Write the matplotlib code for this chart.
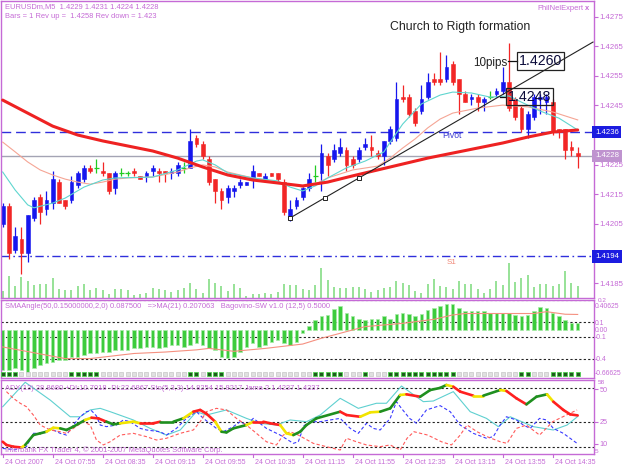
import numpy as np
import matplotlib
matplotlib.use("Agg")
import matplotlib.pyplot as plt
from matplotlib import transforms
from matplotlib.collections import LineCollection

plt.rcParams['font.family'] = ['Liberation Sans', 'DejaVu Sans']

# ---------------- data ----------------
opens = [1.4205, 1.4211, 1.4196, 1.4200, 1.4195, 1.4207, 1.4214, 1.4210, 1.4212, 1.4219,
         1.4213, 1.4213, 1.4218, 1.4220, 1.4224, 1.4224, 1.4223, 1.4222, 1.4217, 1.4222,
         1.4222, 1.4223, 1.4221, 1.4221, 1.4223, 1.4223, 1.4223, 1.4222, 1.4222, 1.4224,
         1.4224, 1.4234, 1.4232, 1.4227, 1.4220, 1.4216, 1.4214, 1.4216, 1.4218, 1.4218,
         1.4220, 1.4222, 1.4220, 1.4222, 1.4222, 1.4219, 1.4207, 1.4211, 1.4214, 1.4217,
         1.4221, 1.4222, 1.4228, 1.4227, 1.4229, 1.4230, 1.4227, 1.4227, 1.4231, 1.4231,
         1.4229, 1.4228, 1.4233, 1.4234, 1.4248, 1.4248, 1.4243, 1.4243, 1.4248, 1.4254,
         1.4254, 1.4254, 1.4259, 1.4254, 1.4249, 1.4247, 1.4248, 1.4246, 1.4248, 1.4249,
         1.4250, 1.4253, 1.4247, 1.4244, 1.4237, 1.4241, 1.4247, 1.4246, 1.4246, 1.4237,
         1.4237, 1.4231, 1.4229]
highs = [1.4212, 1.4212, 1.4204, 1.4204, 1.4208, 1.4214, 1.4215, 1.4216, 1.4223, 1.4220,
         1.4213, 1.4221, 1.4223, 1.4225, 1.4225, 1.4227, 1.4226, 1.4222, 1.4223, 1.4224,
         1.4223, 1.4224, 1.4221, 1.4223, 1.4225, 1.4224, 1.4223, 1.4224, 1.4226, 1.4226,
         1.4237, 1.4235, 1.4233, 1.4228, 1.4220, 1.4217, 1.4218, 1.4218, 1.4220, 1.4219,
         1.4225, 1.4222, 1.4222, 1.4222, 1.4222, 1.4220, 1.4213, 1.4214, 1.4218, 1.4222,
         1.4225, 1.4232, 1.4229, 1.4232, 1.4234, 1.4231, 1.4228, 1.4231, 1.4234, 1.4235,
         1.4230, 1.4233, 1.4238, 1.4253, 1.4252, 1.4249, 1.4244, 1.4252, 1.4256, 1.4256,
         1.4263, 1.4262, 1.4260, 1.4254, 1.4250, 1.4249, 1.4249, 1.4248, 1.4250, 1.4251,
         1.4258, 1.4266, 1.4248, 1.4245, 1.4243, 1.4249, 1.4249, 1.4249, 1.4247, 1.4237,
         1.4237, 1.4233, 1.4231]
lows = [1.4204, 1.4193, 1.4195, 1.4188, 1.4192, 1.4206, 1.4205, 1.4208, 1.4210, 1.4212,
        1.4210, 1.4212, 1.4217, 1.4219, 1.4222, 1.4222, 1.4221, 1.4215, 1.4215, 1.4221,
        1.4221, 1.4221, 1.4220, 1.4219, 1.4221, 1.4219, 1.4219, 1.4220, 1.4221, 1.4222,
        1.4224, 1.4231, 1.4227, 1.4218, 1.4212, 1.4210, 1.4212, 1.4214, 1.4217, 1.4218,
        1.4217, 1.4221, 1.4219, 1.4221, 1.4219, 1.4208, 1.4206, 1.4210, 1.4213, 1.4216,
        1.4219, 1.4216, 1.4221, 1.4226, 1.4228, 1.4223, 1.4224, 1.4226, 1.4230, 1.4228,
        1.4227, 1.4225, 1.4232, 1.4233, 1.4246, 1.4241, 1.4238, 1.4242, 1.4247, 1.4252,
        1.4252, 1.4253, 1.4252, 1.4242, 1.4246, 1.4245, 1.4243, 1.4243, 1.4247, 1.4248,
        1.4249, 1.4243, 1.4240, 1.4236, 1.4234, 1.4240, 1.4242, 1.4242, 1.4235, 1.4234,
        1.4227, 1.4228, 1.4224]
closes = [1.4211, 1.4195, 1.4201, 1.4195, 1.4208, 1.4213, 1.4209, 1.4213, 1.4220, 1.4212,
          1.4211, 1.4219, 1.4222, 1.4224, 1.4223, 1.4224, 1.4222, 1.4216, 1.4222, 1.4222,
          1.4222, 1.4222, 1.4220, 1.4222, 1.4224, 1.4222, 1.4222, 1.4223, 1.4225, 1.4224,
          1.4233, 1.4232, 1.4228, 1.4219, 1.4216, 1.4213, 1.4217, 1.4217, 1.4219, 1.4219,
          1.4223, 1.4221, 1.4221, 1.4221, 1.4220, 1.4209, 1.4210, 1.4213, 1.4217, 1.4220,
          1.4221, 1.4229, 1.4225, 1.4230, 1.4231, 1.4225, 1.4225, 1.4230, 1.4232, 1.4230,
          1.4228, 1.4233, 1.4237, 1.4247, 1.4247, 1.4242, 1.4239, 1.4247, 1.4253, 1.4253,
          1.4253, 1.4258, 1.4253, 1.4249, 1.4246, 1.4248, 1.4246, 1.4247, 1.4248, 1.4250,
          1.4253, 1.4244, 1.4241, 1.4237, 1.4242, 1.4248, 1.4248, 1.4248, 1.4236, 1.4236,
          1.4230, 1.4230, 1.4228]
volumes = [20, 65, 35, 63, 50, 37, 42, 40, 60, 25, 23, 24, 35, 42, 23, 30, 22, 12, 25, 27,
           22, 8, 10, 15, 30, 25, 22, 17, 22, 30, 45, 25, 15, 57, 45, 35, 20, 42, 30, 5,
           12, 12, 15, 12, 17, 42, 37, 38, 25, 22, 37, 90, 53, 32, 28, 28, 33, 33, 25, 17,
           22, 30, 33, 50, 45, 38, 20, 15, 40, 55, 35, 33, 25, 50, 42, 42, 25, 15, 25, 50,
           37, 105, 47, 60, 67, 33, 40, 40, 35, 40, 80, 45, 36]

ma_slow_x = [0, 4, 8, 12, 16, 20, 24, 28, 32, 36, 40, 44, 48, 52, 56, 60, 64, 68, 72, 76,
             80, 84, 88, 92]
ma_slow = [1.42468, 1.42424, 1.42380, 1.42350, 1.42330, 1.42313, 1.42296, 1.42272, 1.42242,
           1.42215, 1.42198, 1.42188, 1.42178, 1.42191, 1.42212, 1.42232, 1.42252, 1.42272,
           1.42289, 1.42306, 1.42323, 1.42343, 1.42360, 1.42367]
ma_mid_x = [0, 2, 4, 6, 8, 10, 12, 14, 16, 18, 20, 24, 28, 30, 32, 34, 36, 40, 44, 48, 50,
            52, 56, 60, 62, 64, 66, 68, 70, 72, 76, 80, 84, 88, 92]
ma_mid = [1.42326, 1.42293, 1.42259, 1.42232, 1.42215, 1.42201, 1.42191, 1.42184, 1.42191,
          1.42201, 1.42205, 1.42208, 1.42225, 1.42239, 1.42249, 1.42242, 1.42225, 1.42205,
          1.42191, 1.42174, 1.42184, 1.42205, 1.42232, 1.42245, 1.42272, 1.42306, 1.42337,
          1.42374, 1.42404, 1.42424, 1.42441, 1.42451, 1.42445, 1.42428, 1.42401]
ma_fast_x = [0, 2, 4, 5, 8, 10, 13, 16, 18, 24, 28, 31, 32, 34, 36, 40, 44, 46, 48, 50, 52,
             55, 58, 61, 62, 64, 67, 70, 72, 75, 78, 81, 83, 86, 89, 92]
ma_fast = [1.42225, 1.42164, 1.42114, 1.42104, 1.42120, 1.42137, 1.42174, 1.42198, 1.42205,
           1.42208, 1.42232, 1.42262, 1.42266, 1.42249, 1.42222, 1.42205, 1.42195, 1.42174,
           1.42161, 1.42178, 1.42205, 1.42239, 1.42262, 1.42293, 1.42326, 1.42387, 1.42455,
           1.42485, 1.42495, 1.42492, 1.42478, 1.42482, 1.42461, 1.42431, 1.42407, 1.42367]

pivot_level = 1.4236
s1_level = 1.4194
bid_level = 1.4228

trend_x = [46, 94.45]
trend_y = [1.4207, 1.42664]
trend_anchor_x = [46, 51.6, 57]

label_high = 1.4260
label_low = 1.4248

price_ticks = [1.4185, 1.4195, 1.4205, 1.4215, 1.4225, 1.4235, 1.4245, 1.4255, 1.4265, 1.4275]
time_labels = ["24 Oct 2007", "24 Oct 07:55", "24 Oct 08:35", "24 Oct 09:15", "24 Oct 09:55",
               "24 Oct 10:35", "24 Oct 11:15", "24 Oct 11:55", "24 Oct 12:35", "24 Oct 13:15",
               "24 Oct 13:55", "24 Oct 14:35"]
time_label_bars = [0, 8, 16, 24, 32, 40, 48, 56, 64, 72, 80, 88]

sma_angle = [-0.557, -0.557, -0.534, -0.557, -0.603, -0.534, -0.488, -0.465, -0.442, -0.420,
             -0.420, -0.374, -0.374, -0.351, -0.328, -0.328, -0.305, -0.305, -0.282, -0.282,
             -0.282, -0.259, -0.259, -0.236, -0.236, -0.259, -0.236, -0.213, -0.213, -0.236,
             -0.213, -0.190, -0.213, -0.259, -0.282, -0.374, -0.397, -0.374, -0.305, -0.236,
             -0.190, -0.236, -0.213, -0.167, -0.144, -0.190, -0.213, -0.167, -0.050, 0.050,
             0.130, 0.180, 0.200, 0.280, 0.320, 0.230, 0.190, 0.150, 0.130, 0.150,
             0.150, 0.180, 0.150, 0.210, 0.230, 0.220, 0.190, 0.220, 0.270, 0.300,
             0.320, 0.350, 0.350, 0.300, 0.250, 0.250, 0.250, 0.250, 0.230, 0.230,
             0.230, 0.230, 0.200, 0.190, 0.200, 0.260, 0.310, 0.290, 0.230, 0.180,
             0.130, 0.090, 0.0875]
sma_ma_x = [0, 5, 10, 14, 21, 26, 31, 33, 37, 42, 48, 51, 53, 58, 64, 69, 72, 74, 80, 85, 87,
            90, 92]
sma_ma = [-0.24, -0.32, -0.40, -0.40, -0.33, -0.31, -0.28, -0.26, -0.30, -0.26, -0.20, -0.12,
          -0.075, 0.04, 0.085, 0.14, 0.20, 0.22, 0.22, 0.22, 0.245, 0.21, 0.207]
bago_signal = [1, 1, 1, 0, 0, 0, 0, 0, 0, 0, 0, 1, 1, 1, 1, 1, 0, 0, 0, 0,
               0, 0, 0, 0, 0, 0, 0, 0, 0, 0, 1, 1, 0, 1, 1, 1, 0, 0, 0, 0,
               0, 0, 0, 0, 0, 0, 0, 0, 0, 0, 1, 1, 1, 1, 1, 0, 0, 0, 1, 0,
               0, 0, 1, 1, 1, 1, 1, 1, 1, 1, 1, 1, 1, 0, 0, 0, 0, 0, 0, 0,
               0, 0, 0, 1, 1, 0, 0, 0, 1, 1, 1, 1, 1]

adx_x = [0, 3.6, 7.6, 10.8, 12.4, 14, 15.6, 17.2, 20.9, 23.6, 26.2, 28.4, 31, 32.6, 35.8, 39,
         41.2, 43.8, 46, 48.6, 50.8, 54, 56.9, 59.8, 61.4, 63.8, 67.3, 68.9, 72.1, 74.8, 77.4,
         79.3, 81.2, 84.9, 88.1, 90.3, 92]
adx = [36.2, 54.5, 41.2, 28.7, 28.7, 33.8, 35.0, 32.5, 26.3, 20.0, 15.0, 18.8, 32.5, 30.0,
       33.8, 27.5, 23.8, 22.5, 26.3, 25.0, 30.0, 42.5, 35.0, 38.8, 38.8, 51.7, 40.0, 40.5,
       47.5, 32.5, 27.5, 21.3, 28.7, 21.3, 18.8, 22.5, 28.9]
jama_x = [0, 0.6, 1.7, 3, 3.6, 4.9, 6, 7, 8.1, 9.2, 10.2, 11.3, 13.2, 14.2, 15.3, 16.6, 17.7,
          18.8, 20.9, 22, 24.1, 25.2, 27.3, 28.9, 30.5, 31.6, 32.6, 34, 35, 35.8, 36.9, 39,
          40.1, 41.7, 42.8, 44.4, 45.4, 46.5, 47.6, 48.6, 50.2, 54, 55, 57.2, 58.8, 60.4, 62,
          63.6, 64.6, 66.8, 68.4, 70, 71, 72.1, 73.2, 75.3, 76.9, 79.6, 80.6, 82.2, 83.8, 85.4,
          87.1, 88.1, 89.7, 90.8, 92]
jama = [10, 7.6, 6.3, 5.7, 7.6, 15, 16.3, 17.5, 20.5, 20, 18.8, 21.3, 26.3, 28, 27.5, 25, 23,
        23.8, 25, 23.8, 23.8, 25, 25, 27.5, 32.5, 33.8, 31, 25, 17.5, 17, 20, 22.5, 25, 25,
        23.8, 22.5, 16.3, 15, 17.5, 22.5, 27.5, 32.5, 30, 28.7, 32, 32.5, 35, 45, 45.5, 43.7,
        48.7, 50.3, 52.5, 51.2, 47.5, 44.5, 44.5, 48.7, 48, 42.5, 38, 43.7, 45.5, 40, 33.8,
        30.5, 29.7]
jama_trend = "rrrrygggyygggyrrggyyrrggyrrrygggyrrryyggggrryyggyrgggyrrygyrrggyrrr"
stoch_main_x = [0, 2, 3.8, 4.9, 6.5, 7.6, 9.2, 10.2, 11.3, 12.4, 13.4, 14.2, 15, 15.6, 16.6,
                18.2, 19.3, 20.4, 22, 23, 25.2, 26.2, 27.8, 29.4, 31, 32.1, 34.2, 35.3, 36.9,
                38, 39, 40.1, 42.2, 44.4, 46.5, 47.3, 48.2, 49.2, 50.8, 52.4, 54, 55.6, 56.9,
                58.2, 59.3, 60.4, 62, 63, 63.8, 65.1, 66.2, 67.8, 69.4, 70, 71.6, 73.2, 75.3,
                77.4, 78.5, 79.6, 80.6, 82.2, 83.3, 84.4, 85.9, 87, 88.1, 89.7, 91.9]
stoch_main = [5, 4, 6.3, 16.3, 16.3, 20, 16.3, 15, 22.5, 28.7, 32.5, 33.3, 29.3, 22.5, 21.3,
              22.5, 26.3, 25, 20, 18.8, 17.5, 15, 20, 27.5, 32.5, 27.5, 20, 17.5, 21.3, 25,
              22.5, 27.5, 20, 15, 8.8, 10, 22, 25, 25, 26.3, 27.5, 20, 16.3, 23.8, 20, 18.8,
              27.5, 40, 35, 27.5, 23.8, 33.8, 36.2, 37, 32.5, 22.5, 16.3, 12.6, 13.8, 22.5,
              28.7, 26.3, 22.5, 20, 27.5, 26.3, 20, 16.3, 8.8]
stoch_sig_x = [0.6, 1.7, 2.8, 3.8, 4.9, 6, 7.6, 9.2, 10.2, 11.3, 12.9, 14, 15, 16.1, 17.2, 18.8,
               20.9, 23, 24.6, 26.2, 28.4, 30.5, 31.6, 32.6, 34.2, 35.8, 37.4, 39, 40.6, 42.2,
               43.8, 44.9, 46, 47.3, 49.7, 51.8, 54, 55, 56.6, 58.2, 60.4, 62, 63.6, 64.7, 65.8,
               68, 70.2, 71.8, 73.2, 74.3, 75.9, 77.5, 79.6, 80.7, 82.2, 83.8, 85.9, 88, 90.2,
               91.9]
stoch_sig = [47.5, 42.5, 38.8, 36.2, 30, 22.5, 18.8, 17.5, 16.3, 20, 25, 22.5, 11.3, 7.6, 10,
             15, 16.3, 13.8, 11.3, 12.6, 16.3, 18.8, 25, 32.5, 35, 33.8, 27.5, 22.5, 16.3, 10,
             7.6, 15, 17.5, 15, 8.8, 6.3, 3.8, 12.6, 10, 7.6, 6.3, 7.6, 3.8, 12.6, 17.5, 15,
             10, 7.6, 15, 22.5, 17.5, 13.8, 10, 8.8, 20, 22.5, 15, 25, 30, 33.8]

# ---------------- style ----------------
W, H = 625, 469
VIOLET = '#c56ad6'
RED = '#f22626'
BLUE = '#1616ee'
GREEN = '#22cc22'

fig = plt.figure(figsize=(W / 100, H / 100), dpi=100)
fig.patch.set_facecolor('white')


def px_axes(x0, y0, x1, y1):
    return fig.add_axes([x0 / W, 1 - y1 / H, (x1 - x0) / W, (y1 - y0) / H])


def fig_text(x, y, s, **kw):
    fig.text(x / W, 1 - y / H, s, **kw)


XL = (-0.192, 94.53)
ax = px_axes(1.5, 0.5, 593.5, 297.5)
ax_v = px_axes(1.5, 237.5, 593.5, 297.5)
ax2 = px_axes(1.5, 299.5, 593.5, 378.0)
ax3 = px_axes(1.5, 379.5, 593.5, 453.5)

for a in (ax, ax2, ax3):
    a.set_xlim(*XL)
    a.set_xticks([])
    for sp in a.spines.values():
        sp.set_color(VIOLET)
        sp.set_linewidth(1.0)
    a.yaxis.tick_right()
    a.tick_params(axis='y', direction='out', length=3, width=0.8, color=VIOLET,
                  labelcolor=VIOLET, labelsize=5.6, pad=1.5)
    a.set_facecolor('none')

ax_v.set_xlim(*XL)
ax_v.set_ylim(0, 180)
ax_v.axis('off')
ax_v.set_zorder(0)
ax.set_zorder(1)

# ---------------- main panel ----------------
ax.set_ylim(1.418011, 1.428044)
highlight = [pivot_level, bid_level, s1_level]
shown_ticks = [p for p in price_ticks if min(abs(p - q) for q in highlight) > 0.00015]
ax.set_yticks(shown_ticks)
ax.set_yticklabels([f"{p:.4f}" for p in shown_ticks])

xb = np.arange(len(opens))
o = np.array(opens); c = np.array(closes); hi = np.array(highs); lo = np.array(lows)
up = c > o
dn = c < o
dj = ~(up | dn)
col = np.where(up, BLUE, np.where(dn, RED, GREEN))

ax_v.vlines(xb, 0, volumes, colors='#8fdf8f', lw=1.3)

ax.axhline(pivot_level, color='#2f2fdc', lw=1.0, dashes=(7, 3.5), zorder=1)
ax.axhline(s1_level, color='#2f2fdc', lw=1.0, dashes=(6, 2.5, 1.2, 2.5), zorder=1)
ax.axhline(bid_level, color='#a4a4b4', lw=1.0, zorder=1)

ax.vlines(xb, lo, hi, colors=col, lw=0.9, zorder=2)
body_b = np.minimum(o, c)
body_h = np.maximum(np.abs(c - o), 0.00003)
m = ~dj
ax.bar(xb[m], body_h[m], bottom=body_b[m], width=0.62, color=col[m], edgecolor=col[m],
       linewidth=0.4, zorder=2)
ax.hlines(o[dj], xb[dj] - 0.4, xb[dj] + 0.4, colors=GREEN, lw=0.9, zorder=2)

ax.plot(ma_mid_x, ma_mid, color='#f5a595', lw=0.8, zorder=3)
ax.plot(ma_fast_x, ma_fast, color='#5fd6cf', lw=0.8, zorder=3)
ax.plot(ma_slow_x, ma_slow, color='#ee2222', lw=2.2, zorder=3, solid_capstyle='round')

ax.plot(trend_x, trend_y, color='#222222', lw=0.8, zorder=4, clip_on=True)
ax.plot(trend_anchor_x, np.interp(trend_anchor_x, trend_x, trend_y), 's', ms=3.0,
        mfc='white', mec='#222222', mew=0.7, zorder=5)

ax.text(62, 1.42715, "Church to Rigth formation", fontsize=8.8, color='#222222',
        ha='left', va='center', zorder=6)
ax.text(75.2, 1.42593, "10pips", fontsize=8.4, color='#222222', ha='left', va='center',
        zorder=6)
ax.plot([80.9, 82.3], [label_high, label_high], color='#111111', lw=0.9, zorder=6)
ax.text(82.6, label_high, f"{label_high:.4f}", fontsize=10.2, color='#0b0b3a', ha='left',
        va='center', zorder=6,
        bbox=dict(boxstyle='square,pad=0.12', fc='none', ec='#222222', lw=0.9))
ax.plot([79.5, 80.6], [label_low, label_low], color='#111111', lw=0.9, zorder=6)
ax.text(80.8, label_low, f"{label_low:.4f}", fontsize=10.2, color='#0b0b3a', ha='left',
        va='center', zorder=6,
        bbox=dict(boxstyle='square,pad=0.12', fc='none', ec='#222222', lw=0.9))
ax.text(70.4, 1.42347, "Pivot", fontsize=6.2, color='#3b3bd0', ha='left', va='center',
        zorder=6)
ax.text(71.0, 1.41921, "S1", fontsize=5.8, color='#f08878', ha='left', va='center',
        zorder=6)

btr = transforms.blended_transform_factory(ax.transAxes, ax.transData)
off = transforms.ScaledTranslation(1.5 / 100, 0, fig.dpi_scale_trans)
for lvl, bg in ((pivot_level, '#1c1ce0'), (bid_level, '#bf93cf'), (s1_level, '#1c1ce0')):
    ax.text(1.0, lvl, f"{lvl:.4f}", transform=btr + off, fontsize=5.6, color='white',
            ha='left', va='center', clip_on=False, zorder=10,
            bbox=dict(boxstyle='square,pad=0.35', fc=bg, ec=bg, lw=0))

fig_text(5, 7, "EURUSDm,M5  1.4229 1.4231 1.4224 1.4228", fontsize=5.4, color=VIOLET,
         ha='left', va='center')
fig_text(5, 16, "Bars = 1 Rev up =  1.4258 Rev down = 1.423", fontsize=5.4, color=VIOLET,
         ha='left', va='center')
fig_text(537, 9, "PhilNelExpert", fontsize=5.4, color=VIOLET, ha='left', va='center')
fig_text(585, 9, "x", fontsize=5.4, color=VIOLET, ha='left', va='center', weight='bold')

# ---------------- SMA angle panel ----------------
ax2.set_ylim(-0.6671, 0.4127)
ax2.set_yticks([0.33, 0.1, 0.0, -0.1, -0.4, -0.585])
ax2.set_yticklabels(["0.40625", "0.1", "0.00", "-0.1", "-0.4", "-0.66625"])
ax2.tick_params(axis='y', labelsize=4.9, pad=1.0, length=0)
for lv in (0.40625, 0.1, -0.1, -0.4):
    ax2.axhline(lv, color='#222222', lw=0.8, dashes=(2, 2), zorder=1)
ax2.bar(xb, sma_angle, width=0.55, color='#3ccb3c', edgecolor='#a6eca6', linewidth=0.5,
        zorder=2)
ax2.plot(sma_ma_x, sma_ma, color='#f59080', lw=0.8, zorder=3)
sig = np.array(bago_signal)
sq_y = np.full(len(sig), -0.612)
ax2.plot(xb[sig == 1], sq_y[sig == 1], 's', ms=3.4, mfc='#1f5a1f', mec='#4fcf4f', mew=0.6,
         zorder=4, clip_on=False)
ax2.plot(xb[sig == 0], sq_y[sig == 0], 's', ms=3.4, mfc='#e0e0e0', mec='#cdcdcd', mew=0.6,
         zorder=4, clip_on=False)
fig_text(598, 300.5, "0.2", fontsize=4.6, color=VIOLET, ha='left', va='center')
fig_text(5, 307,
         "SMAAngle(50,0.15000000,2,0) 0.087500   =>MA(21) 0.207063   Bagovino-SW v1.0 (12,5) 0.5000",
         fontsize=5.4, color=VIOLET, ha='left', va='center')

# ---------------- ADX / Stoch panel ----------------
ax3.set_ylim(1.20, 56.59)
ax3.set_yticks([49.2, 25, 8.6])
ax3.set_yticklabels(["50", "25", "10"])
ax3.tick_params(axis='y', labelsize=5.2)
for lv in (50, 25, 6):
    ax3.axhline(lv, color='#222222', lw=0.8, dashes=(2, 2), zorder=1)
ax3.plot(adx_x, adx, color='#5fd0d0', lw=0.8, zorder=2)
ax3.plot(stoch_main_x, stoch_main, color='#3a3aff', lw=0.8, dashes=(3, 2), zorder=2)
ax3.plot(stoch_sig_x, stoch_sig, color='#ff5a5a', lw=0.8, dashes=(3, 2), zorder=2)
tcol = {'g': '#1f8f1f', 'y': '#f2e400', 'r': '#ff2020'}
segs = [[(jama_x[k - 1], jama[k - 1]), (jama_x[k], jama[k])] for k in range(1, len(jama))]
segc = [tcol[jama_trend[k]] for k in range(1, len(jama))]
ax3.add_collection(LineCollection(segs, colors=segc, linewidths=1.9, zorder=3,
                                  capstyle='round'))
fig_text(598, 382.5, "58", fontsize=4.6, color=VIOLET, ha='left', va='center')
fig_text(594.5, 451, "5", fontsize=4.6, color=VIOLET, ha='left', va='center')
fig_text(5, 388,
         "ADX(13) 28.8680 +DI:10.7018 -DI:22.6867 Sto(5,3,3) 14.8254 15.8217 Jama 2 1.4237 1.4237",
         fontsize=5.4, color=VIOLET, ha='left', va='center')
fig_text(5, 450, "Interbank FX Trader 4, \u00a9 2001-2007 MetaQuotes Software Corp.",
         fontsize=5.4, color=VIOLET, ha='left', va='center')

# time axis
tb = transforms.blended_transform_factory(ax3.transData, ax3.transAxes)
for b, lab in zip(time_label_bars, time_labels):
    ax3.plot([b, b], [0, -0.05], color=VIOLET, lw=0.8, transform=tb, clip_on=False)
    ax3.text(b + 0.3, -0.12, lab, transform=tb, fontsize=5.0, color=VIOLET, ha='left',
             va='center', clip_on=False)

fig.savefig("out.png", dpi=100, facecolor='white')
